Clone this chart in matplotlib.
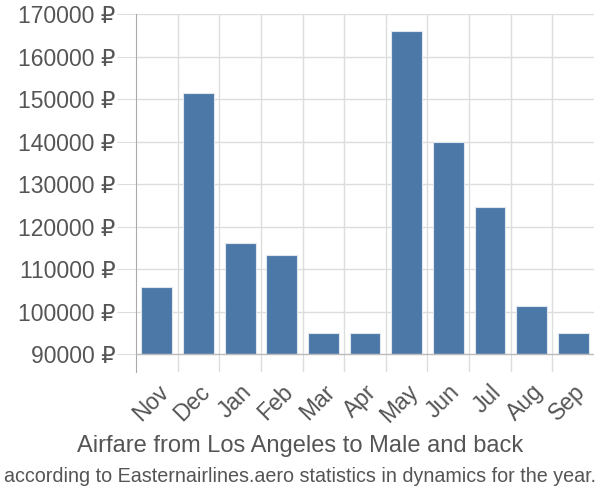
import matplotlib
matplotlib.use('Agg')
import matplotlib.pyplot as plt
import numpy as np

plt.rcParams['font.family'] = ['Liberation Sans', 'DejaVu Sans']

# 月份与票价数据
months = ['Nov', 'Dec', 'Jan', 'Feb', 'Mar', 'Apr', 'May', 'Jun', 'Jul', 'Aug', 'Sep']
prices = [105900, 151500, 116200, 113400, 95000, 95000, 165900, 140000, 124500, 101300, 95000]
yticks = [90000, 100000, 110000, 120000, 130000, 140000, 150000, 160000, 170000]
base = 90000

fig = plt.figure(figsize=(6, 5), dpi=100)
ax = fig.add_axes([0.2267, 0.256, 0.7633, 0.716])

x = np.arange(len(months))
heights = [p - base for p in prices]
ax.bar(x, heights, bottom=base, width=0.74, color='#4c78a8', edgecolor='#dfe6ee', linewidth=0.8, zorder=3)

ax.set_xlim(-0.5, len(months) - 0.5)
ax.set_ylim(85800, 170000)

# 网格线
for xb in np.arange(0.5, len(months) - 0.5, 1):
    ax.axvline(xb, color='#dddddd', linewidth=1, zorder=1)
for yt in yticks:
    ax.axhline(yt, color='#dddddd' if yt != base else '#bbbbbb', linewidth=1, zorder=1 if yt != base else 4)

ax.set_yticks(yticks)
ax.set_yticklabels(['{} ₽'.format(v) for v in yticks], fontsize=16.5, color='#555555')
ax.set_xticks(x)
ax.set_xticklabels(months, rotation=45, ha='right', rotation_mode='anchor', fontsize=16.5, color='#555555')
ax.tick_params(axis='y', length=14, color='#dddddd', pad=1)
ax.tick_params(axis='x', length=0, pad=6)

for s in ['top', 'right', 'bottom']:
    ax.spines[s].set_visible(False)
ax.spines['left'].set_color('#aaaaaa')

fig.text(0.5, 0.108, 'Airfare from Los Angeles to Male and back', ha='center', va='center',
         fontsize=17, color='#555555')
fig.text(0.5, 0.048, 'according to Easternairlines.aero statistics in dynamics for the year.', ha='center',
         va='center', fontsize=14.2, color='#555555')

fig.savefig('out.png', dpi=100)
